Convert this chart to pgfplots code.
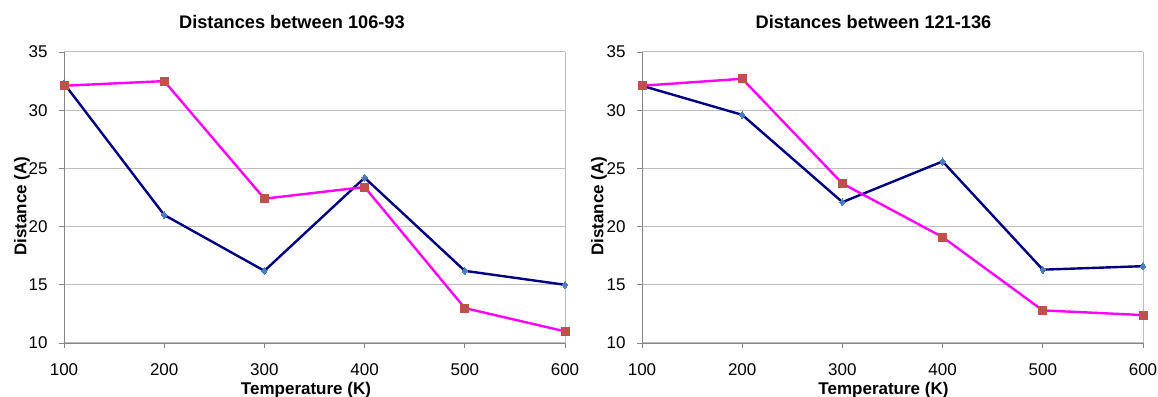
\documentclass[border=0pt]{standalone}
\usepackage{pgfplots}
\pgfplotsset{compat=1.18}
\usepackage{fontspec}
\setmainfont{Liberation Sans}
\definecolor{navyl}{RGB}{0,0,128}
\definecolor{diam}{RGB}{74,126,187}
\definecolor{magl}{RGB}{255,0,255}
\definecolor{sqr}{RGB}{192,80,77}
\definecolor{gridc}{RGB}{190,190,190}
\definecolor{axc}{RGB}{134,134,134}
\pgfplotstableread{
T A B
100 32.3 32.1
200 21.0 32.5
300 16.2 22.4
400 24.2 23.4
500 16.2 13.0
600 15.0 11.0
}\left
\pgfplotstableread{
T A B
100 32.1 32.1
200 29.6 32.7
300 22.1 23.7
400 25.6 19.1
500 16.3 12.8
600 16.6 12.4
}\right
\pgfplotsset{
  chart/.style={
    scale only axis,
    width=501pt, height=291pt,
    anchor=south west,
    xmin=100, xmax=600, ymin=10, ymax=35,
    xtick={100,200,300,400,500,600},
    ytick={10,15,20,25,30,35},
    axis x line*=bottom, axis y line*=left,
    axis line style={axc, line width=0.9pt},
    tick style={axc, line width=0.9pt},
    tick align=outside,
    major tick length=5pt,
    ymajorgrids,
    major grid style={gridc, line width=1pt},
    extra x ticks={600},
    extra x tick labels={},
    extra x tick style={xmajorgrids, major tick length=0pt},
    /pgf/number format/assume math mode=true,
    /pgf/number format/1000 sep={},
    ticklabel style={font=\fontsize{17}{20}\selectfont, text=black},
    xticklabel style={yshift=-12pt},
    yticklabel style={xshift=-8pt},
    label style={font=\bfseries\fontsize{17}{20}\selectfont},
    title style={font=\bfseries\fontsize{18.2}{21}\selectfont},
    xlabel={Temperature (K)},
    ylabel={Distance (A)},
    clip=false,
  },
  navys/.style={navyl, line width=2.4pt, mark=diamond*, mark size=3.6pt,
    mark options={fill=diam, draw=diam, line width=0pt}},
  mags/.style={magl, line width=2.4pt, mark=square*, mark size=4pt,
    mark options={fill=sqr, draw=sqr, line width=0pt}},
}
\begin{document}
\begin{tikzpicture}[x=1pt,y=1pt]
\useasboundingbox (0,0) rectangle (1158,396);
\begin{axis}[chart, at={(64pt,53pt)},
  title={Distances between 106-93},
  title style={at={(axis description cs:0.455,1.081)}, anchor=center},
  xlabel style={at={(axis description cs:0.483,-0.162)}, anchor=center},
  ylabel style={at={(axis description cs:-0.084,0.47)}, anchor=center},
]
\addplot[navys] table[x=T,y=A] {\left};
\addplot[mags] table[x=T,y=B] {\left};
\end{axis}
\begin{axis}[chart, at={(642pt,53pt)},
  title={Distances between 121-136},
  title style={at={(axis description cs:0.462,1.081)}, anchor=center},
  xlabel style={at={(axis description cs:0.482,-0.162)}, anchor=center},
  ylabel style={at={(axis description cs:-0.086,0.47)}, anchor=center},
]
\addplot[navys] table[x=T,y=A] {\right};
\addplot[mags] table[x=T,y=B] {\right};
\end{axis}
\end{tikzpicture}
\end{document}
